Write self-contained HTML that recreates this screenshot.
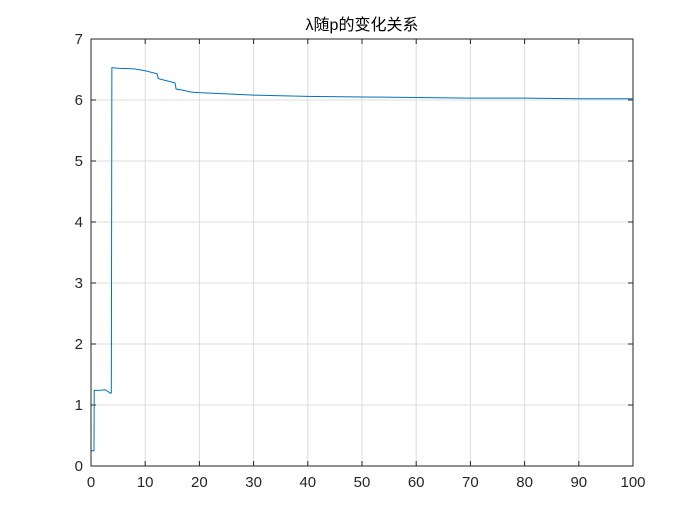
<!DOCTYPE html>
<html><head><meta charset="utf-8"><style>
body{margin:0;background:#fff;}
svg{display:block;font-family:"Liberation Sans","Noto Sans CJK SC",sans-serif;}
</style></head><body>
<svg id="chart" width="700" height="525" viewBox="0 0 700 525"></svg>
<script>
const xTicks=[0,10,20,30,40,50,60,70,80,90,100];
const yTicks=[0,1,2,3,4,5,6,7];
const pValues=[0.1,0.55,0.6,1.5,2.6,3.5,3.6,3.75,3.85,5,8,10,12.2,12.4,15.5,15.7,17,18.5,20,25,30,40,50,60,70,80,90,99.8,100];
const lambdaValues=[0.25,0.25,1.24,1.24,1.25,1.2,1.19,1.2,6.53,6.52,6.51,6.48,6.43,6.35,6.28,6.18,6.16,6.13,6.12,6.1,6.08,6.06,6.05,6.04,6.03,6.03,6.02,6.02,6.0];
const L=91,R=633,T=39,B=466;
const sx=v=>L+(v-0)/(100-0)*(R-L);
const sy=v=>B-(v-0)/(7-0)*(B-T);
const svg=document.getElementById('chart');
const NS='http://www.w3.org/2000/svg';
function mk(tag,attrs){const e=document.createElementNS(NS,tag);for(const k in attrs)e.setAttribute(k,attrs[k]);svg.appendChild(e);return e;}
let e=mk('rect',{x:L,y:T,width:R-L,height:B-T,fill:'#fff'});


xTicks.forEach(t=>{
 let g=mk('line',{x1:sx(t),x2:sx(t),y1:T,y2:B,stroke:'#dcdcdc','stroke-width':1});
 
 
 mk('line',{x1:sx(t),x2:sx(t),y1:B,y2:B-5,stroke:'#262626'});
 mk('line',{x1:sx(t),x2:sx(t),y1:T,y2:T+5,stroke:'#262626'});
 let tx=mk('text',{x:sx(t),y:B+21,'text-anchor':'middle','font-size':15,fill:'#262626'});
 tx.textContent=t;
 
 
});
yTicks.forEach(t=>{
 let g=mk('line',{x1:L,x2:R,y1:sy(t),y2:sy(t),stroke:'#dcdcdc','stroke-width':1});
 
 
 mk('line',{x1:L,x2:L+5,y1:sy(t),y2:sy(t),stroke:'#262626'});
 mk('line',{x1:R,x2:R-5,y1:sy(t),y2:sy(t),stroke:'#262626'});
 let tx=mk('text',{x:L-8,y:sy(t)+5,'text-anchor':'end','font-size':15,fill:'#262626'});
 tx.textContent=t;
 
 
});
e=mk('rect',{x:L,y:T,width:R-L,height:B-T,fill:'none',stroke:'#262626','stroke-width':1});


let d=pValues.map((p,i)=>(i?'L':'M')+sx(p).toFixed(2)+','+sy(lambdaValues[i]).toFixed(2)).join(' ');
e=mk('path',{d:d,fill:'none',stroke:'#0072bd','stroke-width':1});


e=mk('text',{x:(L+R)/2,y:30,'text-anchor':'middle','font-size':16,fill:'#000'});
e.textContent='λ随p的变化关系';


</script>
</body></html>
